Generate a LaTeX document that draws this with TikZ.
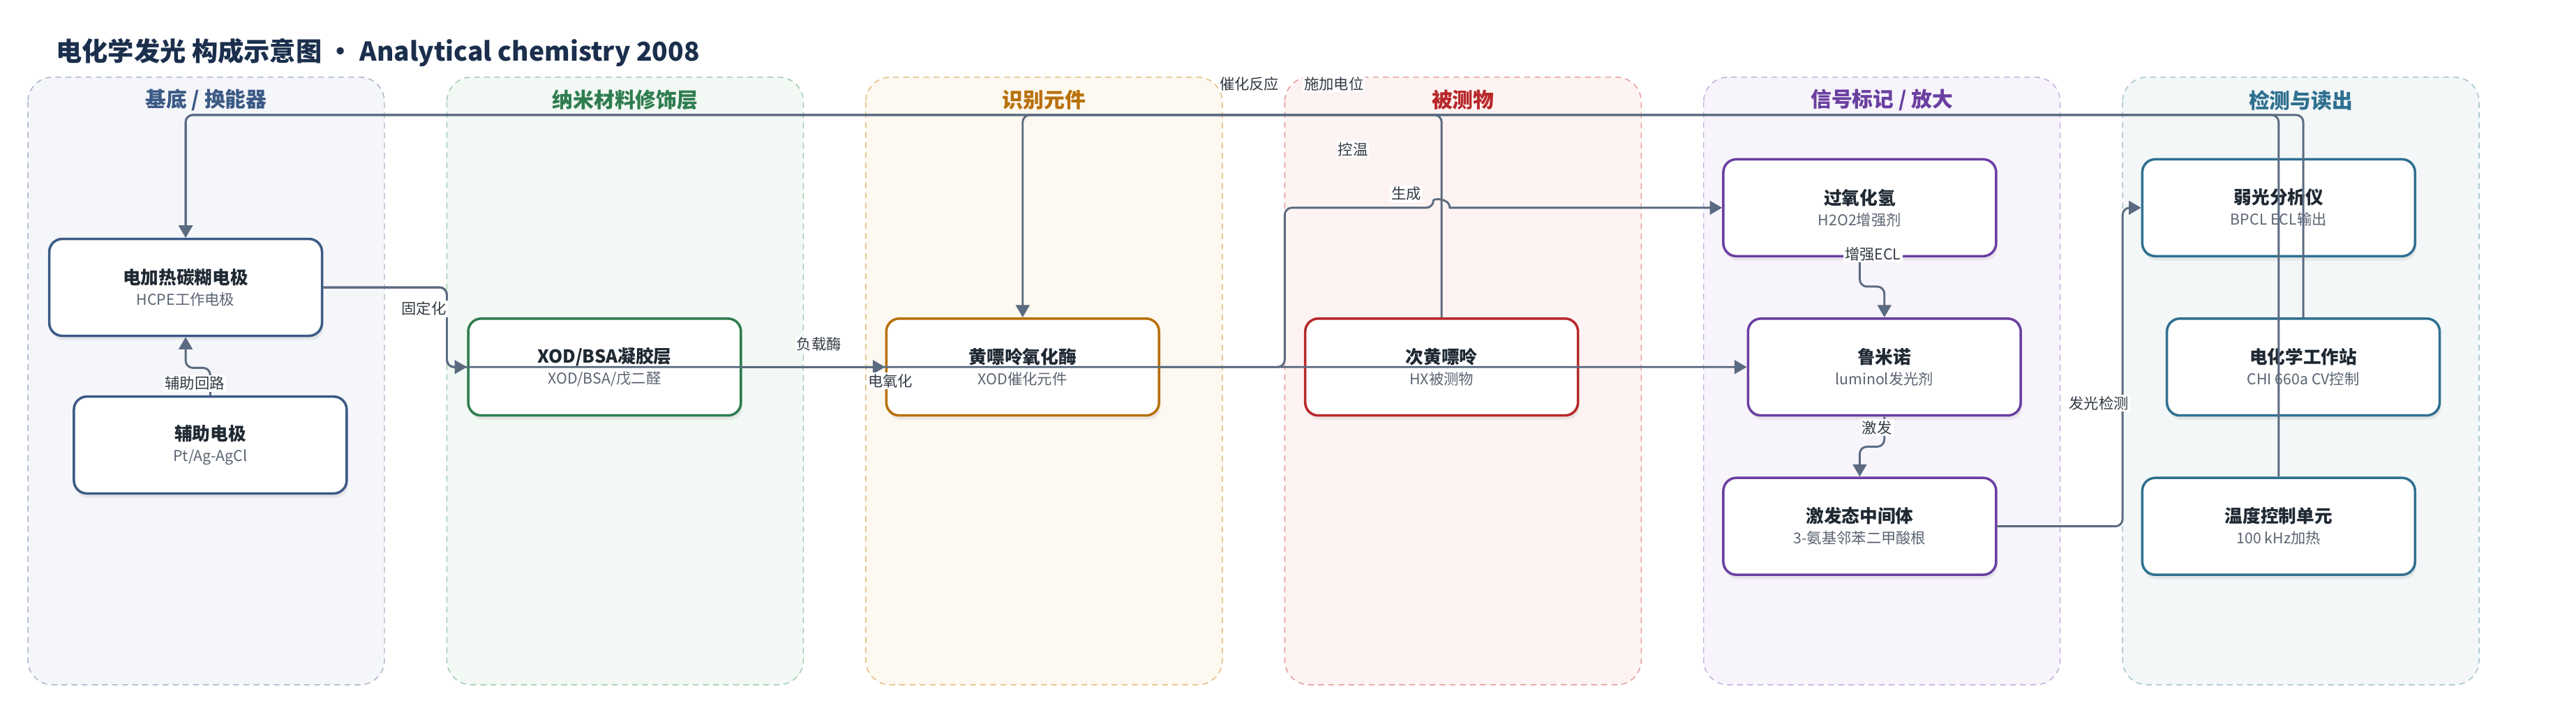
\documentclass[tikz,border=0pt]{standalone}
\usepackage{fontspec}
\setmainfont{Noto Sans CJK SC}
\usetikzlibrary{shapes,positioning,fit,calc,arrows.meta,shadows}

\definecolor{inkNavy}{HTML}{1B2F4D}
\definecolor{inkText}{HTML}{1F2933}
\definecolor{inkSub}{HTML}{5B6472}
\definecolor{inkLabel}{HTML}{333A44}
\definecolor{wire}{HTML}{5A6A80}

\definecolor{baseLine}{HTML}{3B5A85}\definecolor{baseFill}{HTML}{F5F6FA}\definecolor{baseDash}{HTML}{A9B5C9}
\definecolor{nanoLine}{HTML}{2E7D4F}\definecolor{nanoFill}{HTML}{F2F8F4}\definecolor{nanoDash}{HTML}{9FCBAE}
\definecolor{recoLine}{HTML}{B8700A}\definecolor{recoFill}{HTML}{FDF8F0}\definecolor{recoDash}{HTML}{E3BC7E}
\definecolor{anaLine}{HTML}{B8282A}\definecolor{anaFill}{HTML}{FDF3F2}\definecolor{anaDash}{HTML}{E39A98}
\definecolor{sigLine}{HTML}{6A3FA0}\definecolor{sigFill}{HTML}{F7F4FB}\definecolor{sigDash}{HTML}{C3AEDD}
\definecolor{detLine}{HTML}{2F7090}\definecolor{detFill}{HTML}{F3F7F8}\definecolor{detDash}{HTML}{A3C3D0}

\tikzset{
  panel/.style={dash pattern=on 4pt off 3pt, line width=0.7pt, rounded corners=17pt},
  paneltitle/.style={text=#1, font=\bfseries\fontsize{14.4}{17}\selectfont},
  stage/.style={draw=#1, fill=white, line width=1.7pt, rounded corners=9pt,
    minimum width=6.64cm, minimum height=2.36cm, align=center, text=inkText,
    drop shadow={opacity=0.13, shadow xshift=1pt, shadow yshift=-3pt}},
  flow/.style={draw=wire, line width=1.4pt, rounded corners=5pt,
    -{Triangle[length=8.5pt,width=9.5pt]}},
  elabel/.style={fill=white, inner sep=1pt, text=inkLabel, font=\fontsize{10.3}{12}\selectfont}
}
\newcommand\stagetext[2]{{\bfseries\fontsize{12.4}{15.9}\selectfont #1}\\[2.5pt]
  {\fontsize{10.3}{15.9}\selectfont\color{inkSub}#2}}

\begin{document}
\begin{tikzpicture}[x=0.04cm, y=-0.04cm]
    \useasboundingbox (0,0) rectangle (1568,427.7);

    % lanes
    \foreach \dash/\fill/\ink/\name [count=\i from 0] in
      {baseDash/baseFill/baseLine/{基底 / 换能器}, nanoDash/nanoFill/nanoLine/纳米材料修饰层,
       recoDash/recoFill/recoLine/识别元件, anaDash/anaFill/anaLine/被测物,
       sigDash/sigFill/sigLine/{信号标记 / 放大}, detDash/detFill/detLine/检测与读出}
    {
        \draw[panel, draw=\dash, fill=\fill] ({17+255*\i},47) rectangle ++(217,370);
        \node[paneltitle=\ink] (lane\i) at ({125.5+255*\i},61) {\name};
    }

    \node[anchor=west, text=inkNavy, font=\bfseries\fontsize{18}{22}\selectfont] (heading)
        at (31,32) {电化学发光 构成示意图 · Analytical chemistry 2008};

    % components
    \node[stage=baseLine] (hcpe) at (113,175) {\stagetext{电加热碳糊电极}{HCPE工作电极}};
    \node[stage=baseLine] (aux) at (128,271) {\stagetext{辅助电极}{Pt/Ag-AgCl}};
    \node[stage=nanoLine] (gel) at (368,223.5) {\stagetext{XOD/BSA凝胶层}{XOD/BSA/戊二醛}};
    \node[stage=recoLine] (xod) at (622.5,223.5) {\stagetext{黄嘌呤氧化酶}{XOD催化元件}};
    \node[stage=anaLine] (hx) at (877.5,223.5) {\stagetext{次黄嘌呤}{HX被测物}};
    \node[stage=sigLine] (hoo) at (1132,126.5) {\stagetext{过氧化氢}{H2O2增强剂}};
    \node[stage=sigLine] (lum) at (1147,223.5) {\stagetext{鲁米诺}{luminol发光剂}};
    \node[stage=sigLine] (exc) at (1132,320.5) {\stagetext{激发态中间体}{3-氨基邻苯二甲酸根}};
    \node[stage=detLine] (bpcl) at (1387,126.5) {\stagetext{弱光分析仪}{BPCL ECL输出}};
    \node[stage=detLine] (chi) at (1402,223.5) {\stagetext{电化学工作站}{CHI 660a CV控制}};
    \node[stage=detLine] (temp) at (1387,320.5) {\stagetext{温度控制单元}{100 kHz加热}};

    % connections
    \draw[flow] (aux.north) -- (128,224) -| (hcpe.south);
    \draw[flow] (hcpe.east) -| (272,223.5) -- (gel.west);
    \draw[flow] (hcpe.east) -| (272,223.5) -- (lum.west);
    \draw[flow] (gel.east) -- (xod.west);
    \draw[flow] (hx.north) |- (622.5,70) -- (xod.north);
    \draw[flow] (xod.east) -| (782,126.5) -- (872.5,126.5) [sharp corners]
        to[out=90,in=90,looseness=1.5] (882.5,126.5) -- (hoo.west);
    \draw[flow] (hoo.south) -- (1132,174.5) -| (lum.north);
    \draw[flow] (lum.south) -- (1147,272) -| (exc.north);
    \draw[flow] (exc.east) -| (1292,126.5) -- (bpcl.west);
    \draw[flow] (chi.north) |- (113,70) -- (hcpe.north);
    \draw[flow] (temp.north) |- (113,70) -- (hcpe.north);

    \node[elabel] (fixlbl) at (258,188) {固定化};
    \node[elabel] (auxlbl) at (118.5,233.5) {辅助回路};
    \node[elabel] (loadlbl) at (498.5,209.5) {负载酶};
    \node[elabel] (oxlbl) at (542,232) {电氧化};
    \node[elabel] (catlbl) at (760.5,51) {催化反应};
    \node[elabel] (potlbl) at (812,51) {施加电位};
    \node[elabel] (templbl) at (823.5,91) {控温};
    \node[elabel] (genlbl) at (856,118) {生成};
    \node[elabel] (ecllbl) at (1140,154.6) {增强ECL};
    \node[elabel] (exclbl) at (1142.5,260.4) {激发};
    \node[elabel] (detlbl) at (1277.5,245.5) {发光检测};
\end{tikzpicture}
\end{document}
